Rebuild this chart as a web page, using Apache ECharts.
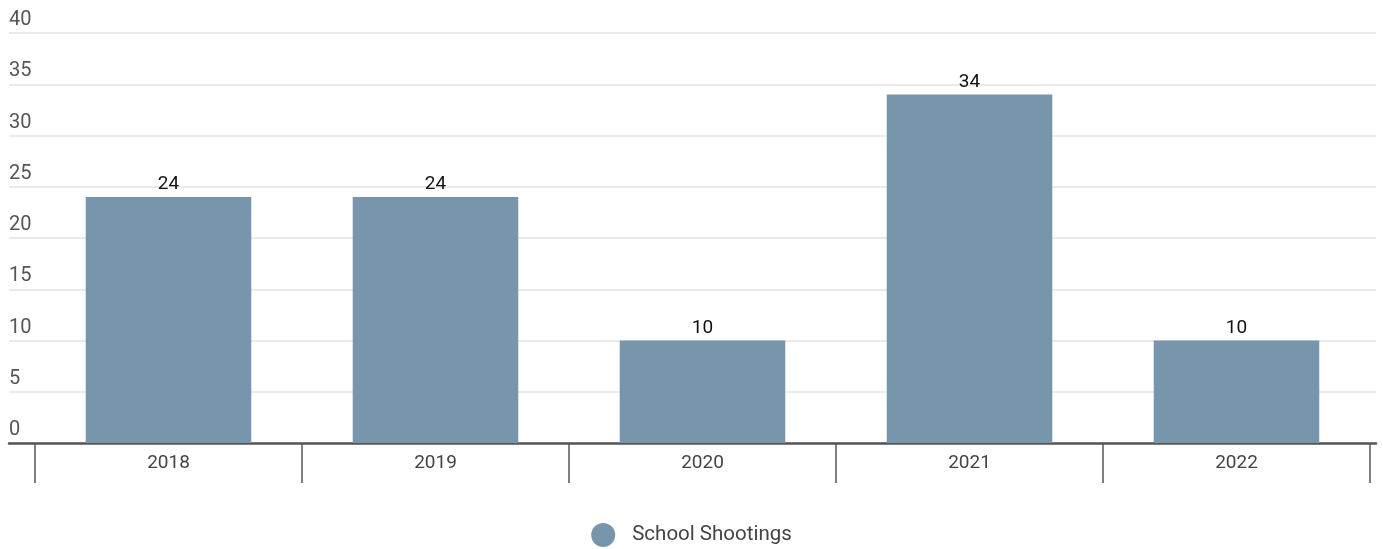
<!DOCTYPE html>
<html>
<head>
<meta charset="utf-8">
<script src="https://cdn.jsdelivr.net/npm/echarts@6/dist/echarts.min.js"></script>
<style>
  html, body { margin: 0; padding: 0; background: #fff; }
  #chart { width: 1383px; height: 549px; }
</style>
</head>
<body>
<div id="chart"></div>
<script>
const years = ['2018', '2019', '2020', '2021', '2022']
const shootings = [24, 24, 10, 34, 10]
const seriesName = 'School Shootings'
const yMin = 0
const yMax = 40
const yStep = 5

const chart = echarts.init(document.getElementById('chart'))

const font = 'Roboto, "Noto Sans", sans-serif'

chart.setOption({
  backgroundColor: '#fff',
  animation: false,
  textStyle: { fontFamily: font },
  legend: {
    data: [seriesName],
    top: 523,
    left: 'center',
    padding: 0,
    icon: 'circle',
    itemWidth: 24,
    itemHeight: 24,
    textStyle: { color: '#444', fontSize: 20.5, fontFamily: font, padding: [0, 0, 0, 12] },
  },
  grid: [
    // bars + category axis
    { left: 35, right: 13, top: 33, bottom: 106 },
    // wider grid for the split lines, y labels and base line
    { left: 9, right: 7, top: 33, bottom: 106 },
  ],
  xAxis: [
    {
      gridIndex: 0,
      type: 'category',
      data: years,
      boundaryGap: true,
      axisLine: { show: false },
      axisTick: { show: true, length: 40, alignWithLabel: false, lineStyle: { color: '#555', width: 1.5 } },
      axisLabel: { color: '#444', fontSize: 19, margin: 11, fontFamily: font },
    },
    {
      gridIndex: 1,
      type: 'value',
      min: 0,
      max: 1,
      axisLine: { show: true, onZero: false, lineStyle: { color: '#555', width: 2.5 } },
      axisTick: { show: false },
      axisLabel: { show: false },
      splitLine: { show: false },
    },
  ],
  yAxis: [
    {
      gridIndex: 0,
      type: 'value',
      min: yMin,
      max: yMax,
      interval: yStep,
      axisLine: { show: false },
      axisTick: { show: false },
      axisLabel: { show: false },
      splitLine: { show: false },
    },
    {
      gridIndex: 1,
      type: 'value',
      min: yMin,
      max: yMax,
      interval: yStep,
      axisLine: { show: false },
      axisTick: { show: false },
      axisLabel: {
        inside: true,
        margin: 0,
        color: '#555',
        fontSize: 20,
        fontFamily: font,
        verticalAlign: 'bottom',
        align: 'left',
        padding: [0, 0, 3, 0],
      },
      splitLine: { show: true, lineStyle: { color: '#e3e3e3', width: 1.5 } },
    },
  ],
  series: [
    {
      name: seriesName,
      type: 'bar',
      xAxisIndex: 0,
      yAxisIndex: 0,
      data: shootings,
      barWidth: '62%',
      itemStyle: { color: '#7896ab' },
      label: {
        show: true,
        position: 'top',
        distance: 3,
        color: '#111',
        fontSize: 19,
        fontFamily: font,
      },
      z: 3,
    },
  ],
})
</script>
</body>
</html>
